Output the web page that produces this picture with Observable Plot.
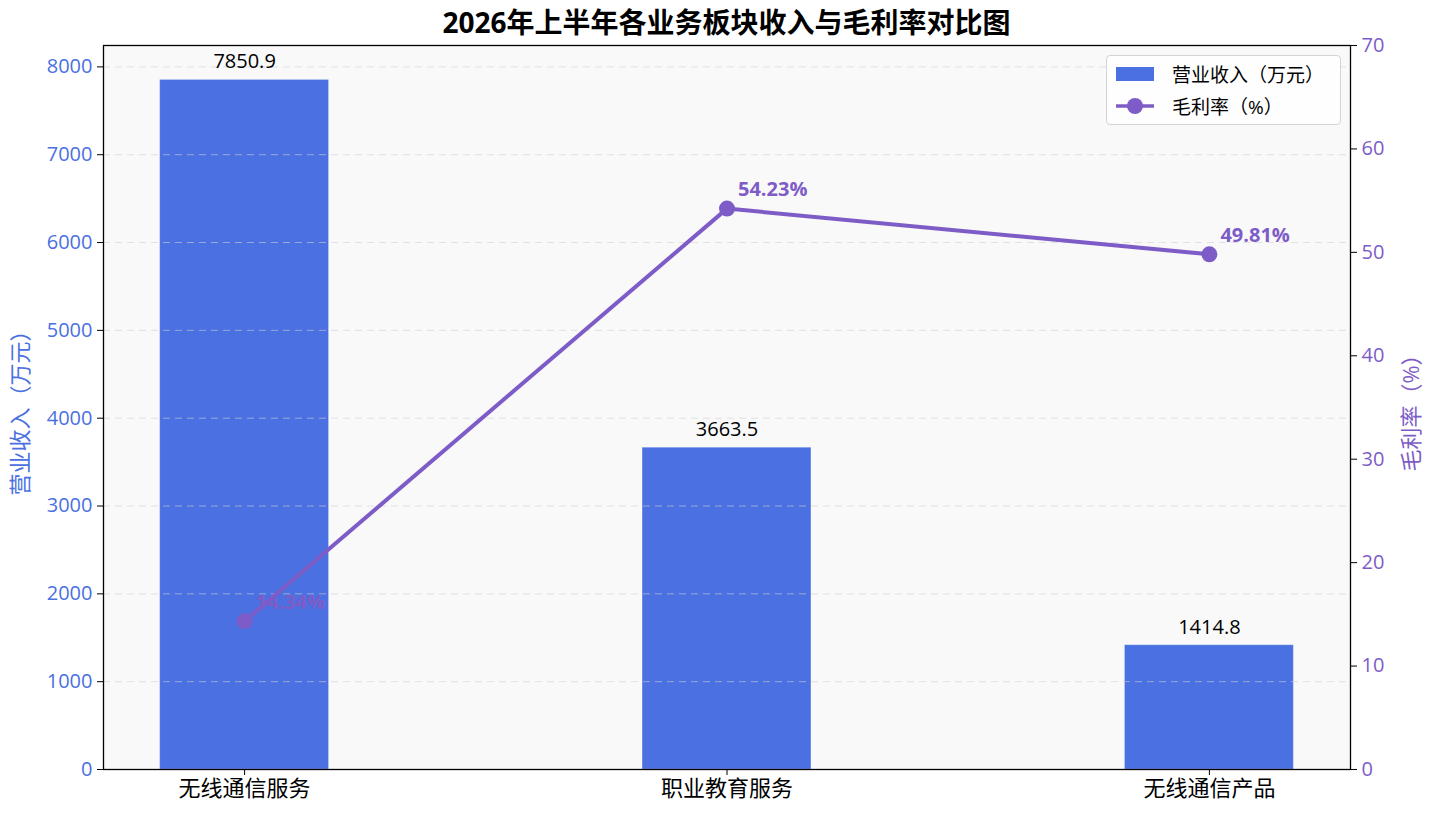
<!DOCTYPE html>
<html>
<head>
<meta charset="utf-8">
<script src="https://cdn.jsdelivr.net/npm/d3@7"></script>
<script src="https://cdn.jsdelivr.net/npm/@observablehq/plot@0.6"></script>
<style>
  body { margin: 0; background: #fff; font-family: "Open Sans", "Noto Sans CJK SC", sans-serif; }
  #wrap { position: relative; width: 1429px; height: 813px; }
  #title { position: absolute; left: 103px; top: 3px; width: 1247px; text-align: center; font-size: 28px; font-weight: bold; color: #000; line-height: 38px; }
  .layer { position: absolute; left: 0; top: 40px; }
  #legend { position: absolute; left: 1106px; top: 55px; width: 233px; height: 68px; border: 1.5px solid #d4d4d4; border-radius: 4px; background: rgba(255,255,255,0.85); font-size: 19px; color: #000; }
  .row { position: absolute; left: 0; height: 26px; display: flex; align-items: center; }
  .sw { width: 38px; height: 14px; margin-left: 9px; margin-right: 18px; }
</style>
</head>
<body>
<div id="wrap">
  <div id="title">2026年上半年各业务板块收入与毛利率对比图</div>
  <div id="p1" class="layer"></div>
  <div id="p2" class="layer"></div>
  <div id="legend"></div>
</div>
<script>
const categories = ["无线通信服务", "职业教育服务", "无线通信产品"];
const revenue = [7850.9, 3663.5, 1414.8];
const margin = [14.34, 54.23, 49.81];
const revTicks = [0, 1000, 2000, 3000, 4000, 5000, 6000, 7000, 8000];
const rateTicks = [0, 10, 20, 30, 40, 50, 60, 70];
const revLabel = "营业收入（万元）";
const rateLabel = "毛利率（%）";
const legendLabels = ["营业收入（万元）", "毛利率（%）"];

const BLUE = "#4a70e1";
const PURPLE = "#7e5cc8";
const W = 1429, H = 773;
const M = {marginTop: 5, marginBottom: 44, marginLeft: 103, marginRight: 79};
const data = categories.map((c, i) => ({i, category: c, revenue: revenue[i], rate: margin[i]}));
const halfW = 0.175;
const xDomain = [-halfW - 0.1175, 2 + halfW + 0.1175];
const revMax = d3.max(revenue) * 1.05;
const font = {fontFamily: "Open Sans, Noto Sans CJK SC, sans-serif", fontSize: "20px", overflow: "visible"};

const p1 = Plot.plot({
  width: W, height: H, ...M,
  style: font,
  x: {type: "linear", domain: xDomain, axis: null},
  y: {domain: [0, revMax], axis: null},
  marks: [
    Plot.frame({fill: "#f9f9f9", stroke: "none"}),
    Plot.rectY(data, {x1: d => d.i - halfW, x2: d => d.i + halfW, y1: 0, y2: "revenue", fill: BLUE, stroke: "#ffffff", strokeOpacity: 0.25, strokeWidth: 1}),
    Plot.gridY(revTicks, {stroke: "#d0d0d0", strokeOpacity: 0.6, strokeDasharray: "7,5", strokeWidth: 1}),
    Plot.text(data, {x: "i", y: "revenue", text: d => d.revenue.toFixed(1), dy: -18, fontSize: 20, fill: "#000"}),
    Plot.axisY({ticks: revTicks, tickFormat: d => String(d), tickSize: 6, tickPadding: 5, stroke: "#000", fill: BLUE, fontSize: 20, label: null}),
    Plot.axisX({ticks: [0, 1, 2], tickFormat: i => categories[i], tickSize: 6, tickPadding: 5, stroke: "#000", fill: "#000", fontSize: 22, label: null}),
    Plot.text([revLabel], {frameAnchor: "left", textAnchor: "middle", dx: -83, rotate: -90, fill: BLUE, fontSize: 22})
  ]
});
document.getElementById("p1").appendChild(p1);

const p2 = Plot.plot({
  width: W, height: H, ...M,
  style: {...font, background: "transparent"},
  x: {type: "linear", domain: xDomain, axis: null},
  y: {domain: [0, 70], axis: null},
  marks: [
    Plot.line(data, {x: "i", y: "rate", stroke: PURPLE, strokeWidth: 4}),
    Plot.dot(data, {x: "i", y: "rate", r: 8, fill: PURPLE, stroke: "none"}),
    Plot.text(data, {x: "i", y: "rate", text: d => d.rate.toFixed(2) + "%", dx: 11, dy: -19, textAnchor: "start", fontWeight: "bold", fontSize: 20, fill: PURPLE}),
    Plot.axisY({anchor: "right", ticks: rateTicks, tickFormat: d => String(d), tickSize: 6, tickPadding: 5, stroke: "#000", fill: PURPLE, fontSize: 20, label: null}),
    Plot.frame({stroke: "#000", strokeWidth: 1.3}),
    Plot.text([rateLabel], {frameAnchor: "right", textAnchor: "middle", dx: 61, rotate: -90, fill: PURPLE, fontSize: 22})
  ]
});
document.getElementById("p2").appendChild(p2);

const lg = document.getElementById("legend");
lg.innerHTML =
  `<div class="row" style="top:5px"><div class="sw" style="background:${BLUE}"></div><span>${legendLabels[0]}</span></div>` +
  `<div class="row" style="top:37px"><svg width="38" height="20" style="margin-left:9px;margin-right:18px"><line x1="0" y1="10" x2="38" y2="10" stroke="${PURPLE}" stroke-width="3.5"/><circle cx="19" cy="10" r="8" fill="${PURPLE}"/></svg><span>${legendLabels[1]}</span></div>`;
</script>
</body>
</html>
